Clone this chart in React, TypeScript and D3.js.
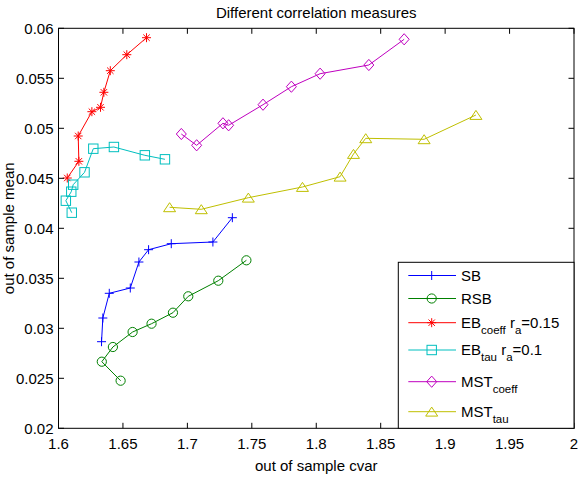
import React from "react";
import * as d3 from "d3";

// Out-of-sample results for each portfolio construction method
const sbCvar = [1.6334, 1.6344, 1.6394, 1.6557, 1.6624, 1.6699, 1.6875, 1.7198, 1.7349];
const sbMean = [0.02866, 0.03103, 0.0335, 0.03403, 0.03663, 0.03786, 0.03846, 0.03863, 0.04106];

const rsbCvar = [1.6482, 1.6336, 1.6422, 1.6575, 1.6722, 1.6888, 1.7007, 1.724, 1.7458];
const rsbMean = [0.02476, 0.02666, 0.02813, 0.02963, 0.03046, 0.03156, 0.0332, 0.03476, 0.0368];

const ebCoeffCvar = [1.6068, 1.6158, 1.6153, 1.6259, 1.6326, 1.6352, 1.6402, 1.653, 1.6683];
const ebCoeffMean = [0.04503, 0.0467, 0.04923, 0.05166, 0.0521, 0.0536, 0.05576, 0.05736, 0.05906];

const ebTauCvar = [1.6103, 1.6057, 1.6099, 1.6114, 1.6202, 1.627, 1.643, 1.667, 1.6826];
const ebTauMean = [0.04156, 0.04276, 0.04366, 0.04436, 0.0456, 0.04796, 0.04813, 0.0473, 0.0469];

const mstCoeffCvar = [1.6953, 1.7072, 1.7276, 1.732, 1.7587, 1.7807, 1.803, 1.8408, 1.8682];
const mstCoeffMean = [0.04943, 0.0483, 0.0505, 0.0503, 0.05236, 0.05416, 0.05546, 0.05633, 0.0589];

const mstTauCvar = [1.6862, 1.7108, 1.7473, 1.7893, 1.8185, 1.8289, 1.8384, 1.8837, 1.9239];
const mstTauMean = [0.0421, 0.0419, 0.04306, 0.04413, 0.04516, 0.04743, 0.049, 0.0489, 0.05133];

const xTicks = [1.6, 1.65, 1.7, 1.75, 1.8, 1.85, 1.9, 1.95, 2];
const xTickLabels = ["1.6", "1.65", "1.7", "1.75", "1.8", "1.85", "1.9", "1.95", "2"];
const yTicks = [0.02, 0.025, 0.03, 0.035, 0.04, 0.045, 0.05, 0.055, 0.06];
const yTickLabels = ["0.02", "0.025", "0.03", "0.035", "0.04", "0.045", "0.05", "0.055", "0.06"];

type Label = { main: string; sub?: string; tail?: string; tailSub?: string; tailEnd?: string };

const series = [
  { cvar: sbCvar, mean: sbMean, color: "#0000ff", marker: "plus", label: { main: "SB" } as Label },
  { cvar: rsbCvar, mean: rsbMean, color: "#008000", marker: "circle", label: { main: "RSB" } as Label },
  {
    cvar: ebCoeffCvar, mean: ebCoeffMean, color: "#ff0000", marker: "star",
    label: { main: "EB", sub: "coeff", tail: " r", tailSub: "a", tailEnd: "=0.15" } as Label,
  },
  {
    cvar: ebTauCvar, mean: ebTauMean, color: "#00bfbf", marker: "square",
    label: { main: "EB", sub: "tau", tail: " r", tailSub: "a", tailEnd: "=0.1" } as Label,
  },
  { cvar: mstCoeffCvar, mean: mstCoeffMean, color: "#bf00bf", marker: "diamond", label: { main: "MST", sub: "coeff" } as Label },
  { cvar: mstTauCvar, mean: mstTauMean, color: "#bfbf00", marker: "triangle", label: { main: "MST", sub: "tau" } as Label },
];

const W = 579;
const H = 478;
const left = 58.5;
const right = 574;
const top = 28.3;
const bottom = 428.3;
const FONT = "'Liberation Sans', Arial, sans-serif";

const x = d3.scaleLinear().domain([1.6, 2]).range([left, right]);
const y = d3.scaleLinear().domain([0.02, 0.06]).range([bottom, top]);

function Marker({ kind, cx, cy, color }: { kind: string; cx: number; cy: number; color: string }) {
  const common = { fill: "none", stroke: color, strokeWidth: 1 };
  switch (kind) {
    case "plus":
      return <path {...common} d={`M${cx - 4.5},${cy}H${cx + 4.5}M${cx},${cy - 4.5}V${cy + 4.5}`} />;
    case "circle":
      return <circle {...common} cx={cx} cy={cy} r={4.6} />;
    case "star":
      return (
        <path
          {...common}
          d={`M${cx - 4.5},${cy}H${cx + 4.5}M${cx},${cy - 4.5}V${cy + 4.5}M${cx - 3.2},${cy - 3.2}L${cx + 3.2},${cy + 3.2}M${cx - 3.2},${cy + 3.2}L${cx + 3.2},${cy - 3.2}`}
        />
      );
    case "square":
      return <rect {...common} x={cx - 4.7} y={cy - 4.7} width={9.4} height={9.4} />;
    case "diamond":
      return <path {...common} d={`M${cx},${cy - 5.6}L${cx + 5},${cy}L${cx},${cy + 5.6}L${cx - 5},${cy}Z`} />;
    case "triangle":
      return <path {...common} d={`M${cx},${cy - 4.6}L${cx + 6},${cy + 4.4}L${cx - 6},${cy + 4.4}Z`} />;
    default:
      return null;
  }
}

function LegendText({ label, tx, ty }: { label: Label; tx: number; ty: number }) {
  return (
    <text x={tx} y={ty} fontFamily={FONT} fontSize={15} fill="#000">
      <tspan>{label.main}</tspan>
      {label.sub && (
        <tspan fontSize={11.5} dy={6}>
          {label.sub}
        </tspan>
      )}
      {label.tail && <tspan dy={-6}>{label.tail}</tspan>}
      {label.tailSub && (
        <tspan fontSize={11.5} dy={6}>
          {label.tailSub}
        </tspan>
      )}
      {label.tailEnd && <tspan dy={-6}>{label.tailEnd}</tspan>}
    </text>
  );
}

export default function App() {
  const line = d3
    .line<[number, number]>()
    .x((d) => x(d[0]))
    .y((d) => y(d[1]));

  const legendRows = [275.5, 298.5, 322.7, 350, 381.7, 411.7];
  const legend = { x0: 398.3, y0: 262.3, x1: right, y1: bottom };
  const tick = 5.5;

  return (
    <svg
      width={W}
      height={H}
      style={{ position: "absolute", left: 0, top: 0, background: "#fff" }}
      xmlns="http://www.w3.org/2000/svg"
    >
      <rect x={0} y={0} width={W} height={H} fill="#fff" />
      <text x={(left + right) / 2} y={17.5} textAnchor="middle" fontFamily={FONT} fontSize={15} fill="#000">
        Different correlation measures
      </text>

      {/* series lines and markers */}
      {series.map((s, i) => {
        const pts = s.cvar.map((c, k) => [c, s.mean[k]] as [number, number]);
        return (
          <g key={i}>
            <path d={line(pts) || ""} fill="none" stroke={s.color} strokeWidth={1} />
            {pts.map((p, k) => (
              <Marker key={k} kind={s.marker} cx={x(p[0])} cy={y(p[1])} color={s.color} />
            ))}
          </g>
        );
      })}

      {/* axes box with inward ticks */}
      <g stroke="#000" strokeWidth={1} fill="none">
        {xTicks.map((t, i) => (
          <g key={"xt" + i}>
            <line x1={x(t)} x2={x(t)} y1={bottom} y2={bottom - tick} />
            <line x1={x(t)} x2={x(t)} y1={top} y2={top + tick} />
          </g>
        ))}
        {yTicks.map((t, i) => (
          <g key={"yt" + i}>
            <line x1={left} x2={left + tick} y1={y(t)} y2={y(t)} />
            <line x1={right} x2={right - tick} y1={y(t)} y2={y(t)} />
          </g>
        ))}
        <rect x={left} y={top} width={right - left} height={bottom - top} />
      </g>

      {xTicks.map((t, i) => (
        <text key={"xl" + i} x={x(t)} y={448.5} textAnchor="middle" fontFamily={FONT} fontSize={15} fill="#000">
          {xTickLabels[i]}
        </text>
      ))}
      {yTicks.map((t, i) => (
        <text key={"yl" + i} x={53.5} y={y(t) + 5.5} textAnchor="end" fontFamily={FONT} fontSize={15} fill="#000">
          {yTickLabels[i]}
        </text>
      ))}

      <text x={(left + right) / 2} y={471} textAnchor="middle" fontFamily={FONT} fontSize={15} fill="#000">
        out of sample cvar
      </text>
      <text
        transform={`translate(13.5,${(top + bottom) / 2}) rotate(-90)`}
        textAnchor="middle"
        fontFamily={FONT}
        fontSize={15}
        fill="#000"
      >
        out of sample mean
      </text>

      {/* legend */}
      <rect
        x={legend.x0}
        y={legend.y0}
        width={legend.x1 - legend.x0}
        height={legend.y1 - legend.y0}
        fill="#fff"
        stroke="#000"
        strokeWidth={1}
      />
      {series.map((s, i) => {
        const ly = legendRows[i];
        return (
          <g key={"lg" + i}>
            <line x1={408.3} x2={456} y1={ly} y2={ly} stroke={s.color} strokeWidth={1} />
            <Marker kind={s.marker} cx={431.7} cy={ly} color={s.color} />
            <LegendText label={s.label} tx={461} ty={ly + 5.3} />
          </g>
        );
      })}
    </svg>
  );
}
